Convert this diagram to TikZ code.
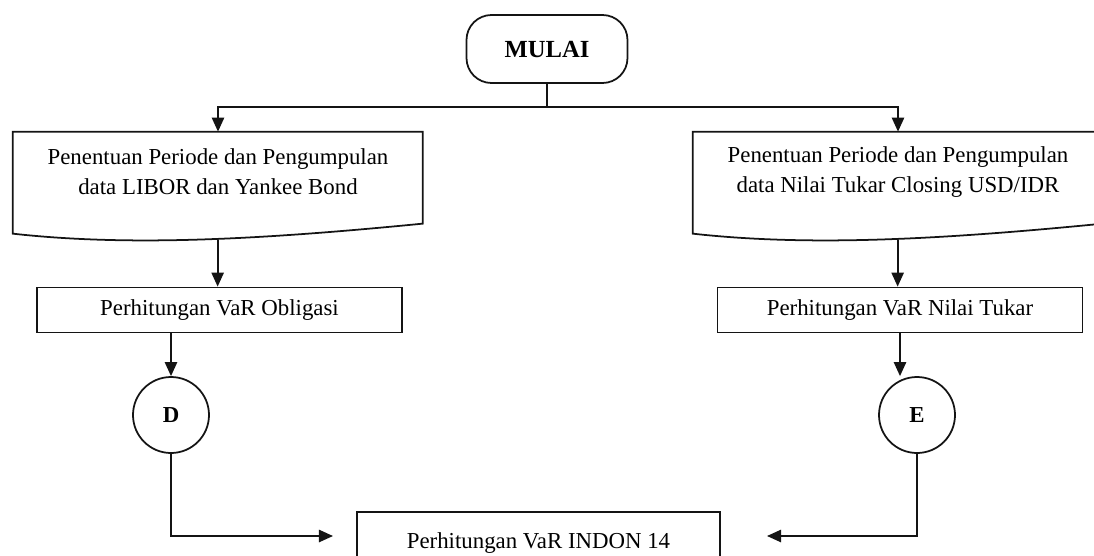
\documentclass[tikz,border=0pt]{standalone}
\usepackage{fontspec}
\setmainfont{Liberation Serif}
\usetikzlibrary{arrows.meta,calc,positioning}
\definecolor{garisHitam}{HTML}{141414}

\tikzset{
  teks/.style={font=\fontsize{13}{17}\selectfont,align=center},
  proses/.style={teks,draw=garisHitam,line width=1pt,minimum width=7.3cm,minimum height=0.9cm,inner sep=2pt},
  dokumen/.style={teks,minimum width=8.2cm,minimum height=1.6cm,inner sep=2pt},
  konektor/.style={circle,draw=garisHitam,line width=1pt,minimum size=1.52cm,inner sep=0pt,font=\fontsize{13}{15}\selectfont\bfseries},
  alir/.style={draw=garisHitam,line width=1pt,-{Triangle[length=8pt,width=7pt]}},
  garis/.style={draw=garisHitam,line width=1pt}
}
% bentuk dokumen: atas lurus, bawah bergelombang
\newcommand{\bentukDok}[1]{%
  \begin{scope}[shift={(#1.north west)}]
    \draw[garis] (0,0) -- (8.2,0) -- (8.2,-1.84)
      .. controls (4.94,-2.16) and (2.34,-2.30) .. (0,-2.04) -- cycle;
    \coordinate (#1bawah) at (4.1,-2.16);
  \end{scope}}

\begin{document}
\begin{tikzpicture}
\useasboundingbox (0,0) rectangle (21.88,11.1);

\node[garis,rounded corners=0.5cm,minimum width=3.22cm,minimum height=1.36cm,
  font=\fontsize{14}{16}\selectfont\bfseries] (mulai) at (10.94,10.12) {MULAI};
\coordinate (cabang) at (10.94,8.96);

\node[dokumen] (dataL) at (4.36,7.66) {Penentuan Periode dan Pengumpulan\\data LIBOR dan Yankee Bond};
\node[dokumen] (dataR) at (17.96,7.66) {Penentuan Periode dan Pengumpulan\\data Nilai Tukar Closing USD/IDR};
\bentukDok{dataL}
\bentukDok{dataR}

\node[proses] (obligasi) at (4.39,4.90) {Perhitungan VaR Obligasi};
\node[proses] (tukar) at (18.0,4.90) {Perhitungan VaR Nilai Tukar};

\node[konektor] (D) at (3.42,2.80) {D};
\node[konektor] (E) at (18.34,2.80) {E};

\node[proses,minimum width=7.26cm,minimum height=1.24cm] (indon) at (10.77,0.24) {Perhitungan VaR INDON 14};
\coordinate (masukKiri) at (6.66,0.38);
\coordinate (masukKanan) at (15.34,0.38);

% alur
\draw[garis] (mulai.south) -- (cabang);
\draw[alir] (cabang) -| (dataL.north);
\draw[alir] (cabang) -| (dataR.north);
\draw[alir] (dataLbawah) -- (dataLbawah |- obligasi.north);
\draw[alir] (dataRbawah) -- (dataRbawah |- tukar.north);
\draw[alir] (obligasi.south -| D.north) -- (D.north);
\draw[alir] (tukar.south) -- (tukar.south |- E.north);
\draw[alir] (D.south) |- (masukKiri);
\draw[alir] (E.south) |- (masukKanan);
\end{tikzpicture}
\end{document}
